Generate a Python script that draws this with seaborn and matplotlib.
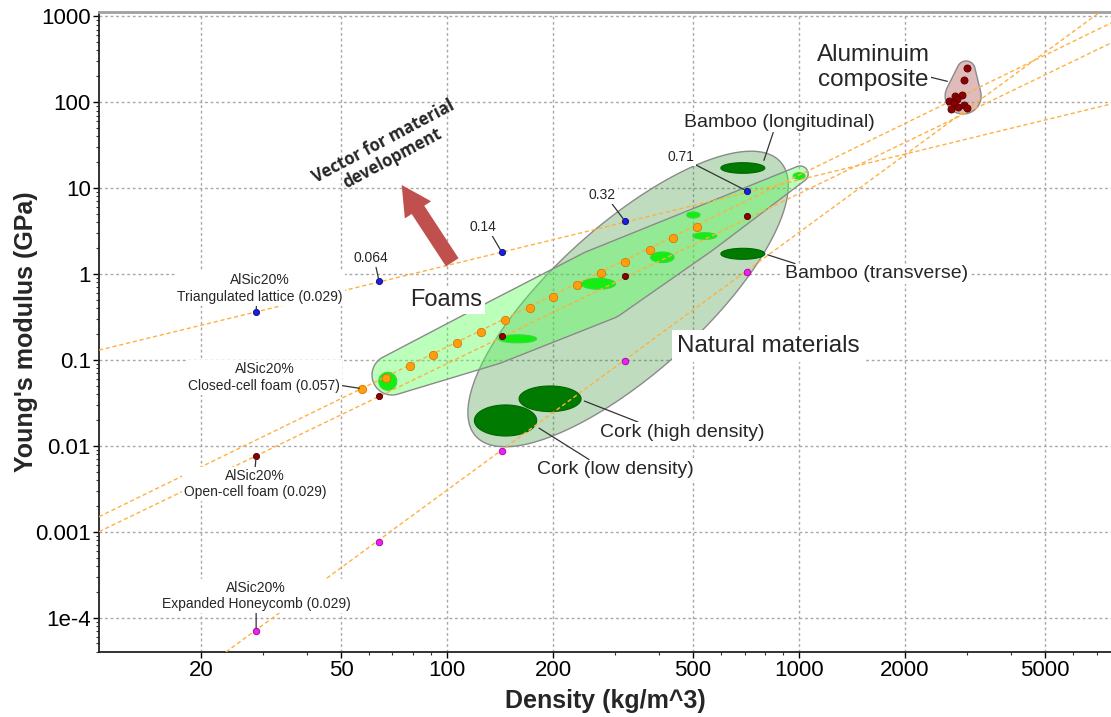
import numpy as np
import pandas as pd
import matplotlib
matplotlib.use("Agg")
import matplotlib.pyplot as plt
import seaborn as sns
from matplotlib.ticker import FixedLocator, FixedFormatter, NullFormatter, LogLocator

# ---------------- data ----------------
x_ticks = [20, 50, 100, 200, 500, 1000, 2000, 5000]
x_tick_labels = ["20", "50", "100", "200", "500", "1000", "2000", "5000"]
y_ticks = [1e-4, 1e-3, 1e-2, 0.1, 1, 10, 100, 1000]
y_tick_labels = ["1e-4", "0.001", "0.01", "0.1", "1", "10", "100", "1000"]

# AlSiC20% triangulated lattice (blue)
lattice_density = [28.7, 64.1, 143, 320, 711]
lattice_modulus = [0.361, 0.829, 1.80, 4.14, 9.25]
lattice_rel = ["0.029", "0.064", "0.14", "0.32", "0.71"]

# AlSiC20% closed-cell foam (orange)
closed_density = [57.4, 67.1, 78.3, 91.4, 107, 125.2, 146.4, 171.8, 200, 234.6,
                  274.3, 320.4, 376.6, 438.6, 513]
closed_modulus = [0.0462, 0.0616, 0.0849, 0.115, 0.157, 0.213, 0.291, 0.399, 0.540,
                  0.745, 1.02, 1.37, 1.89, 2.60, 3.55]

# AlSiC20% open-cell foam (maroon)
open_density = [28.7, 64.1, 143, 320, 711]
open_modulus = [7.67e-3, 0.0383, 0.191, 0.955, 4.73]

# AlSiC20% expanded honeycomb (magenta)
honey_density = [28.7, 64.1, 143, 320, 711]
honey_modulus = [6.98e-5, 7.65e-4, 8.70e-3, 0.0963, 1.06]

# Aluminium composite records
al_density = [2995, 2949, 2775, 2910, 2673, 2805, 2756, 2949, 2835, 2698, 3007]
al_modulus = [252.1, 179.8, 119.1, 121.3, 104.1, 108.1, 97.1, 92.8, 88.6, 83.3, 84.9]

# guide lines (end points read at the plot edges)
lattice_line_density = [10.27, 7690]
lattice_line_modulus = [0.130, 95.3]
closed_line_density = [10.27, 7690]
closed_line_modulus = [1.495e-3, 835.6]
open_line_density = [10.27, 7690]
open_line_modulus = [1.0e-3, 489]
honey_line_density = [23.56, 7161]
honey_line_modulus = [3.977e-5, 1122]

# foam material bubbles (ranges)
foam_rho_lo = [64.0, 140.1, 240.3, 378.8, 498.9, 479.4, 961.6]
foam_rho_hi = [72.0, 179.6, 301.3, 441.5, 583.7, 523.3, 1040]
foam_E_lo = [0.0443, 0.158, 0.664, 1.357, 2.535, 4.49, 12.66]
foam_E_hi = [0.0718, 0.196, 0.891, 1.804, 3.026, 5.27, 15.11]

# natural material bubbles: bamboo long., bamboo trans., cork high, cork low
nat_names = ["Bamboo (longitudinal)", "Bamboo (transverse)", "Cork (high density)", "Cork (low density)"]
nat_rho_lo = [599.5, 599.5, 160.2, 119.6]
nat_rho_hi = [799.4, 799.4, 240.3, 179.8]
nat_E_lo = [14.87, 1.483, 0.0250, 0.0130]
nat_E_hi = [19.76, 1.991, 0.0497, 0.0299]

# envelopes: (density, modulus, rx, ry, angle)
foam_env = [(69.8, 0.0667, 20, 20, 0), (132.5, 0.195, 30, 30, 0),
            (272.1, 0.745, 36, 36, 0), (523.3, 3.167, 23, 23, 0), (1007, 14.6, 8, 8, 0)]
natural_env = [(326.8, 0.5117, 205, 74, 42)]
al_env = [(2981, 237.1, 9, 9, 0), (2924, 118.1, 18, 18, 0)]

# ---------------- figure ----------------
sns.set_style("white")
plt.rcParams['font.family'] = ['Liberation Sans', 'DejaVu Sans']

W, H = 1111, 717
fig = plt.figure(figsize=(W / 100, H / 100), dpi=100)
ax = fig.add_axes([99 / W, 1 - 652 / H, 1012 / W, 640 / H])
ax.set_xscale('log')
ax.set_yscale('log')
ax.set_xlim(10.27, 7690)
ax.set_ylim(3.977e-5, 1122)

ax.xaxis.set_major_locator(FixedLocator(x_ticks))
ax.xaxis.set_major_formatter(FixedFormatter(x_tick_labels))
ax.yaxis.set_major_locator(FixedLocator(y_ticks))
ax.yaxis.set_major_formatter(FixedFormatter(y_tick_labels))
ax.xaxis.set_minor_locator(LogLocator(base=10, subs=np.arange(2, 10), numticks=20))
ax.yaxis.set_minor_locator(LogLocator(base=10, subs=np.arange(2, 10), numticks=20))
ax.xaxis.set_minor_formatter(NullFormatter())
ax.yaxis.set_minor_formatter(NullFormatter())
ax.tick_params(which='major', direction='out', length=4, width=1, labelsize=16, pad=2, colors='black')
ax.tick_params(which='minor', direction='out', length=2.5, width=0.8, colors='#333333')
ax.tick_params(axis='y', which='both', left=True)
ax.tick_params(axis='x', which='both', bottom=True)

ax.grid(True, which='major', color='#A8A8A8', linestyle=(0, (2, 2)), linewidth=1)
ax.set_axisbelow(True)
for s in ['left', 'bottom']:
    ax.spines[s].set_color('#222222')
    ax.spines[s].set_linewidth(1.3)
ax.spines['top'].set_color('#A0A0A0')
ax.spines['top'].set_linewidth(2)
ax.spines['right'].set_visible(False)


def convex_hull(points):
    pts = sorted(map(tuple, points))
    def cross(o, a, b):
        return (a[0] - o[0]) * (b[1] - o[1]) - (a[1] - o[1]) * (b[0] - o[0])
    lower = []
    for p in pts:
        while len(lower) >= 2 and cross(lower[-2], lower[-1], p) <= 0:
            lower.pop()
        lower.append(p)
    upper = []
    for p in reversed(pts):
        while len(upper) >= 2 and cross(upper[-2], upper[-1], p) <= 0:
            upper.pop()
        upper.append(p)
    return np.array(lower[:-1] + upper[:-1])


def envelope(shapes, fc, alpha, z):
    t = np.linspace(0, 2 * np.pi, 160, endpoint=False)
    pts = []
    for (cx, cy, rx, ry, ang) in shapes:
        c = ax.transData.transform((cx, cy))
        a = np.deg2rad(ang)
        u = rx * np.cos(t)
        v = ry * np.sin(t)
        px = c[0] + u * np.cos(a) - v * np.sin(a)
        py = c[1] + u * np.sin(a) + v * np.cos(a)
        pts.append(np.column_stack([px, py]))
    hull = convex_hull(np.vstack(pts))
    d = ax.transData.inverted().transform(hull)
    ax.fill(d[:, 0], d[:, 1], facecolor=fc, alpha=alpha, edgecolor='none', zorder=z)
    ax.fill(d[:, 0], d[:, 1], facecolor='none', edgecolor='#8A8A8A', linewidth=1.0, zorder=z + 0.01)


def bubbles(lo_x, hi_x, lo_y, hi_y, fc, ec, z):
    t = np.linspace(0, 2 * np.pi, 100)
    for a, b, c, d in zip(lo_x, hi_x, lo_y, hi_y):
        cx, hx = (np.log10(a) + np.log10(b)) / 2, (np.log10(b) - np.log10(a)) / 2
        cy, hy = (np.log10(c) + np.log10(d)) / 2, (np.log10(d) - np.log10(c)) / 2
        ax.fill(10 ** (cx + hx * np.cos(t)), 10 ** (cy + hy * np.sin(t)),
                facecolor=fc, edgecolor=ec, linewidth=0.8, zorder=z)


envelope(natural_env, '#2E8B2E', 0.30, 1.0)
envelope(foam_env, '#55FF55', 0.40, 1.1)
envelope(al_env, '#B86A6A', 0.45, 1.2)

bubbles(foam_rho_lo, foam_rho_hi, foam_E_lo, foam_E_hi, '#12EE12', '#3AD83A', 2)
bubbles(nat_rho_lo, nat_rho_hi, nat_E_lo, nat_E_hi, '#007A00', '#006600', 2)

line_color = '#FFB040'
for lx, ly in [(lattice_line_density, lattice_line_modulus),
               (closed_line_density, closed_line_modulus),
               (open_line_density, open_line_modulus),
               (honey_line_density, honey_line_modulus)]:
    sns.lineplot(x=lx, y=ly, ax=ax, color=line_color, linewidth=1.0,
                 linestyle=(0, (3, 2)), zorder=3, sort=False, estimator=None)

pts = [
    (lattice_density, lattice_modulus, '#1E1EE0', '#0A0A80', 20),
    (closed_density, closed_modulus, '#FF9F10', '#D87800', 36),
    (open_density, open_modulus, '#8B0000', '#4A0000', 20),
    (honey_density, honey_modulus, '#F020F0', '#A000A0', 22),
    (al_density, al_modulus, '#8B0000', '#5A0000', 26),
]
for xs, ys, c, ec, s in pts:
    df = pd.DataFrame({"density": xs, "modulus": ys})
    sns.scatterplot(data=df, x="density", y="modulus", ax=ax, color=c, edgecolor=ec,
                    linewidth=0.6, s=s, zorder=4, legend=False)
ax.set_xlabel("Density (kg/m^3)", fontsize=18, fontweight='bold')
ax.set_ylabel("Young's modulus (GPa)", fontsize=18, fontweight='bold')
ax.xaxis.set_label_coords(0.5, -0.058)
ax.yaxis.set_label_coords(-0.06, 0.5)

lead = dict(arrowstyle='-', color='#333333', lw=0.9, shrinkA=0, shrinkB=2)


def label(text, xytext, xy=None, size=10, relpos=(0.5, 0.5), pad=0.15):
    bb = dict(boxstyle='square,pad=%g' % pad, fc='white', ec='none')
    if xy is None:
        ax.text(xytext[0], xytext[1], text, fontsize=size, ha='center', va='center',
                multialignment='center', bbox=bb, zorder=5)
    else:
        ap = dict(lead)
        ap['relpos'] = relpos
        ax.annotate(text, xy=xy, xytext=xytext, fontsize=size, ha='center', va='center',
                    multialignment='center', bbox=bb, arrowprops=ap, zorder=5)


# relative-density labels on lattice points
rel_pos = [(60.8, 1.556, (0.63, 0.0)), (126.6, 3.525, (0.8, 0.0)),
           (276.5, 8.31, (0.8, 0.0)), (460.7, 23.0, (1.0, 0.0))]
for i, (tx, ty, rp) in enumerate(rel_pos, start=1):
    label(lattice_rel[i], (tx, ty), (lattice_density[i], lattice_modulus[i]), size=10, relpos=rp)

label("AlSic20%\nTriangulated lattice (0.029)", (29.4, 0.678),
      (lattice_density[0], lattice_modulus[0]), size=10, relpos=(0.48, 0.0))
label("AlSic20%\nClosed-cell foam (0.057)", (30.3, 0.0624),
      (closed_density[0], closed_modulus[0]), size=10, relpos=(1.0, 0.24))
label("AlSic20%\nOpen-cell foam (0.029)", (28.5, 3.59e-3),
      (open_density[0], open_modulus[0]), size=10, relpos=(0.5, 1.0))
label("AlSic20%\nExpanded Honeycomb (0.029)", (28.7, 1.784e-4),
      (honey_density[0], honey_modulus[0]), size=10, relpos=(0.5, 0.0))

label("Foams", (99.3, 0.498), size=17, pad=0.12)
label("Natural materials", (816.7, 0.145), size=17.5, pad=0.2)
label("Bamboo (longitudinal)", (880.4, 58.8), (790, 19.6), size=14, relpos=(0.47, 0.0), pad=0.1)
label("Bamboo (transverse)", (1655, 1.0), (800.5, 1.71), size=14, relpos=(0.09, 1.0), pad=0.1)
label("Cork (high density)", (466.7, 0.01428), (241.4, 0.0341), size=14, relpos=(0.26, 1.0), pad=0.1)
label("Cork (low density)", (300.1, 5.23e-3), (179.8, 0.01669), size=14, relpos=(0.354, 1.0), pad=0.1)
label("Aluminuim\ncomposite", (1623, 253.4), (2685, 171.9), size=17.5, relpos=(1.0, 0.3), pad=0.05)

# development vector
ax.annotate('', xy=(74.35, 10.87), xytext=(103.5, 1.368),
            arrowprops=dict(arrowstyle='simple,head_width=1.13,head_length=1.07,tail_width=0.54',
                            mutation_scale=20, fc='#C0504D', ec='none', shrinkA=0, shrinkB=0),
            zorder=5)
ax.text(67.8, 27.8, "Vector for material\ndevelopment", rotation=28, fontsize=12,
        fontweight='bold', family=['Open Sans', 'DejaVu Sans'], ha='center', va='center',
        multialignment='center', rotation_mode='anchor', linespacing=1.1, zorder=5)

fig.savefig("out.png", dpi=100)
